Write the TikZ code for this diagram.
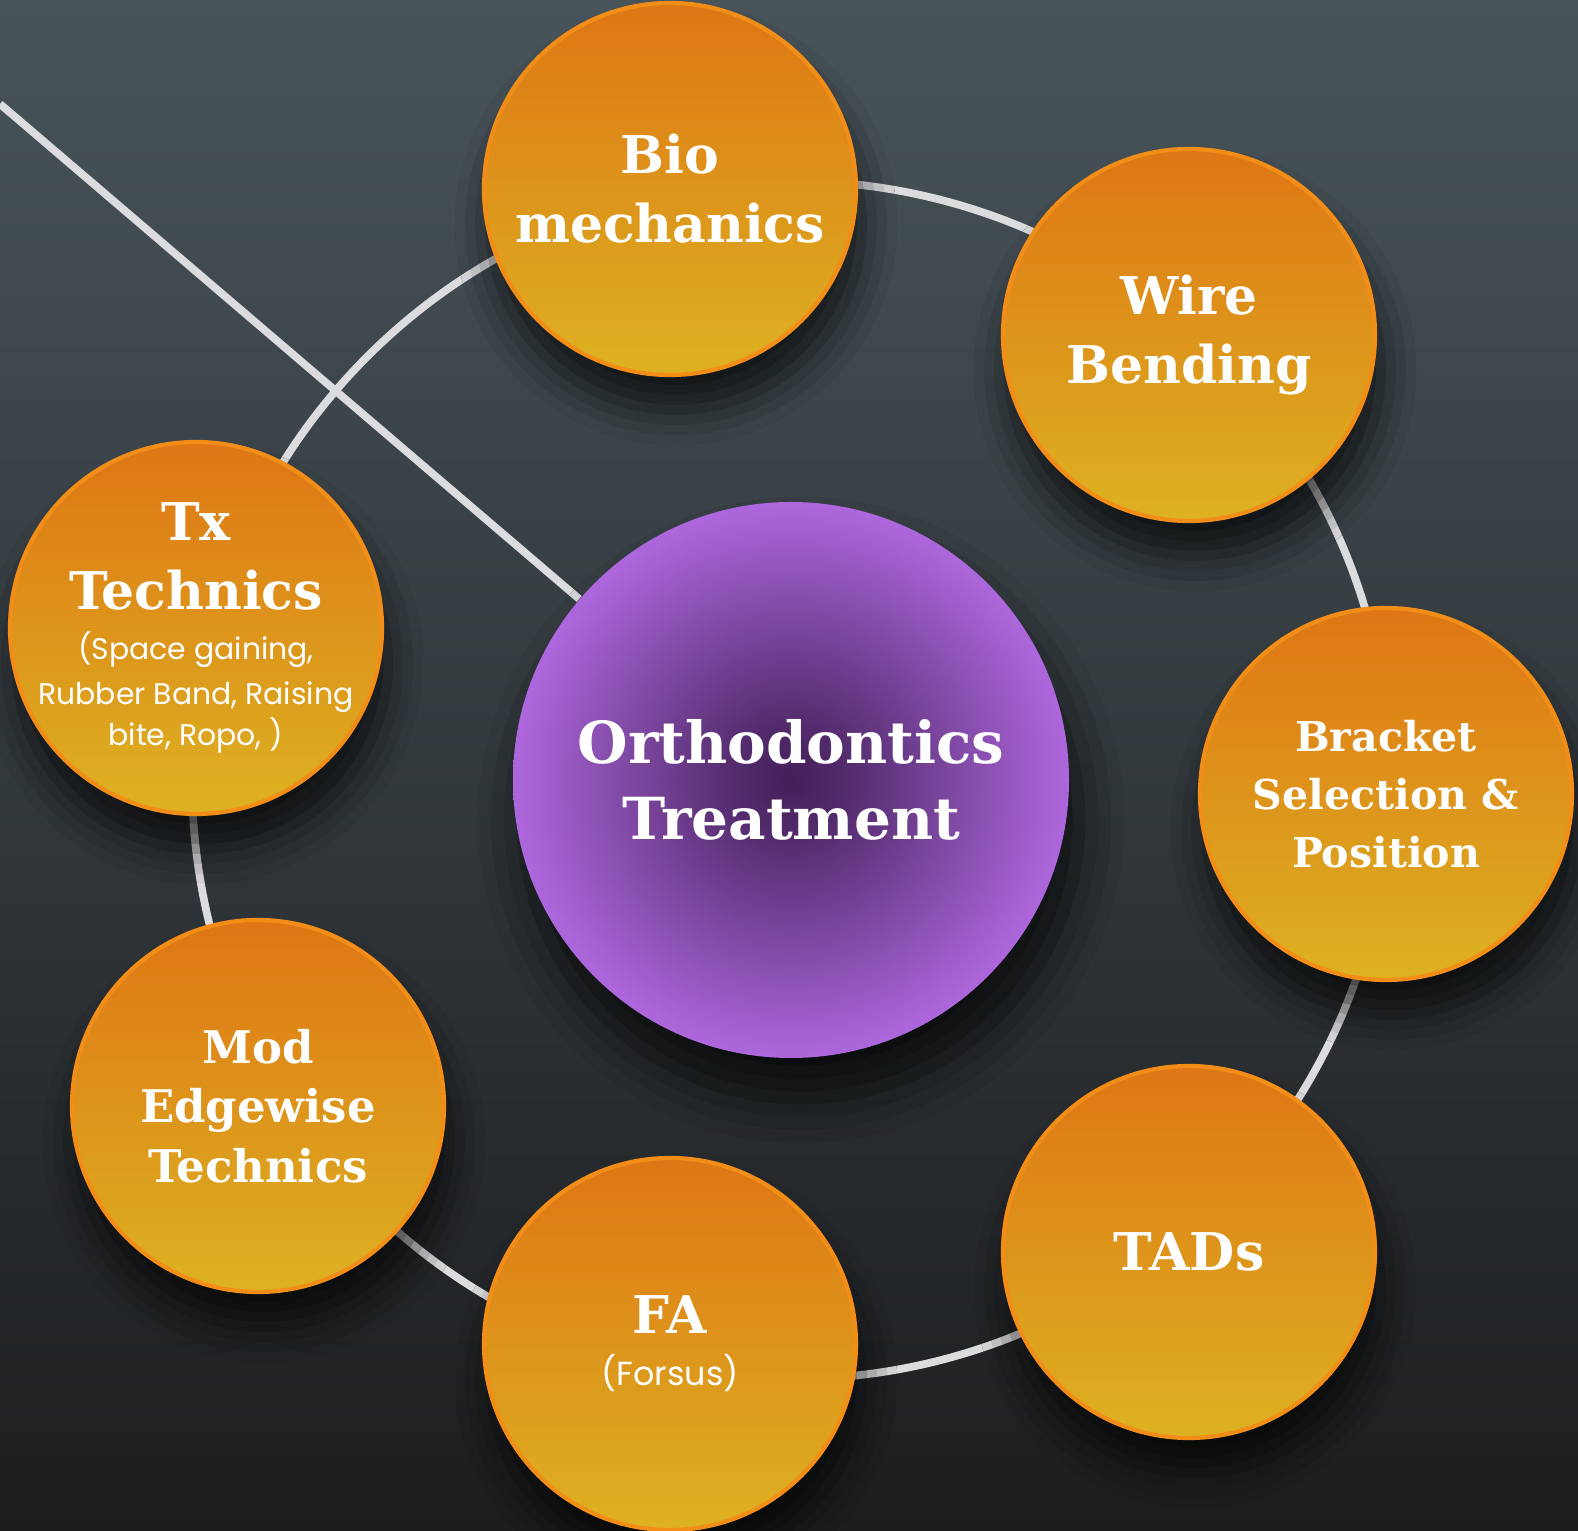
\documentclass[tikz,border=0pt]{standalone}
\usepackage{fontspec}
\usetikzlibrary{positioning,shadows.blur}

\newfontfamily\headfont{DejaVu Serif}
\newfontfamily\notefont{Poppins}
\newcommand\headsize[2]{\headfont\bfseries\fontsize{#1}{#2}\selectfont}
\newcommand\notesize[2]{{\notefont\mdseries\fontsize{#1}{#1}\selectfont #2}}

\definecolor{orangetop}{RGB}{222,106,18}
\definecolor{orangebot}{RGB}{221,190,36}
\definecolor{orangeline}{RGB}{242,142,24}
\definecolor{hubdark}{RGB}{66,32,88}
\definecolor{hublight}{RGB}{178,106,226}
\definecolor{boardtop}{RGB}{72,84,90}
\definecolor{boardmid}{RGB}{46,50,54}
\definecolor{boardbot}{RGB}{28,29,31}
\definecolor{wirecol}{RGB}{220,220,222}

\pgfdeclareverticalshading{topicshade}{100bp}{color(0bp)=(orangebot); color(15bp)=(orangebot); color(85bp)=(orangetop); color(100bp)=(orangetop)}
\pgfdeclareradialshading{hubshade}{\pgfpoint{0bp}{0bp}}{color(0bp)=(hubdark); color(5bp)=(hubdark!85!hublight); color(26bp)=(hublight); color(50bp)=(hublight)}

\pgfdeclarelayer{board}
\pgfsetlayers{board,main}

\tikzset{
  topic/.style={circle, draw=orangeline, line width=1.2pt, minimum size=3.72cm,
    shade, shading=topicshade, text=white, align=center,
    font=\headsize{14.8}{19.6},
    blur shadow={shadow xshift=0.6mm, shadow yshift=-3.5mm, shadow blur radius=3.5mm, shadow opacity=70}},
  hub/.style={circle, minimum size=5.56cm, shade, shading=hubshade, text=white,
    align=center, font=\headsize{16.5}{21.6},
    blur shadow={shadow xshift=1mm, shadow yshift=-4mm, shadow blur radius=4.5mm, shadow opacity=75}},
  ring/.style={draw=wirecol, line width=2.2pt}
}

\begin{document}
\begin{tikzpicture}
\useasboundingbox (0,0) rectangle (15.78,-15.31);

\node[hub] (Ortho) at (7.91,-7.80) {Orthodontics\\Treatment};

\node[topic] (Bio) at (6.70,-1.89) {Bio\\mechanics};
\node[topic] (Wire) at (11.89,-3.35) {Wire\\Bending};
\node[topic, font=\headsize{11.7}{16.5}] (Bracket) at (13.86,-7.94) {Bracket\\Selection \&\\Position};
\node[topic] (TADs) at (11.89,-12.52) {TADs};
\node[topic] (FA) at (6.70,-13.44) {FA\\[-4.8pt]\notesize{9.5}{(Forsus)}};
\node[topic, font=\headsize{12.8}{17}] (Mod) at (2.58,-11.06) {Mod\\Edgewise\\Technics};
\node[topic, inner sep=-6mm] (Tx) at (1.96,-6.28) {Tx\\Technics\\[-5.4pt]\notesize{8.5}{(Space gaining,}\\[-6.8pt]\notesize{8.5}{Rubber Band, Raising}\\[-7.7pt]\notesize{8.5}{bite, Ropo, )}};

\coordinate (edge) at (0,-1.04);

% board, ring and the line to the hub
\begin{pgfonlayer}{board}
  \shade[top color=boardtop, middle color=boardmid, bottom color=boardbot] (0,0) rectangle (15.78,-15.31);
  \draw[ring] (Ortho.center) circle[radius=5.99];
  \draw[ring] (edge) -- (Ortho);
\end{pgfonlayer}
\end{tikzpicture}
\end{document}
